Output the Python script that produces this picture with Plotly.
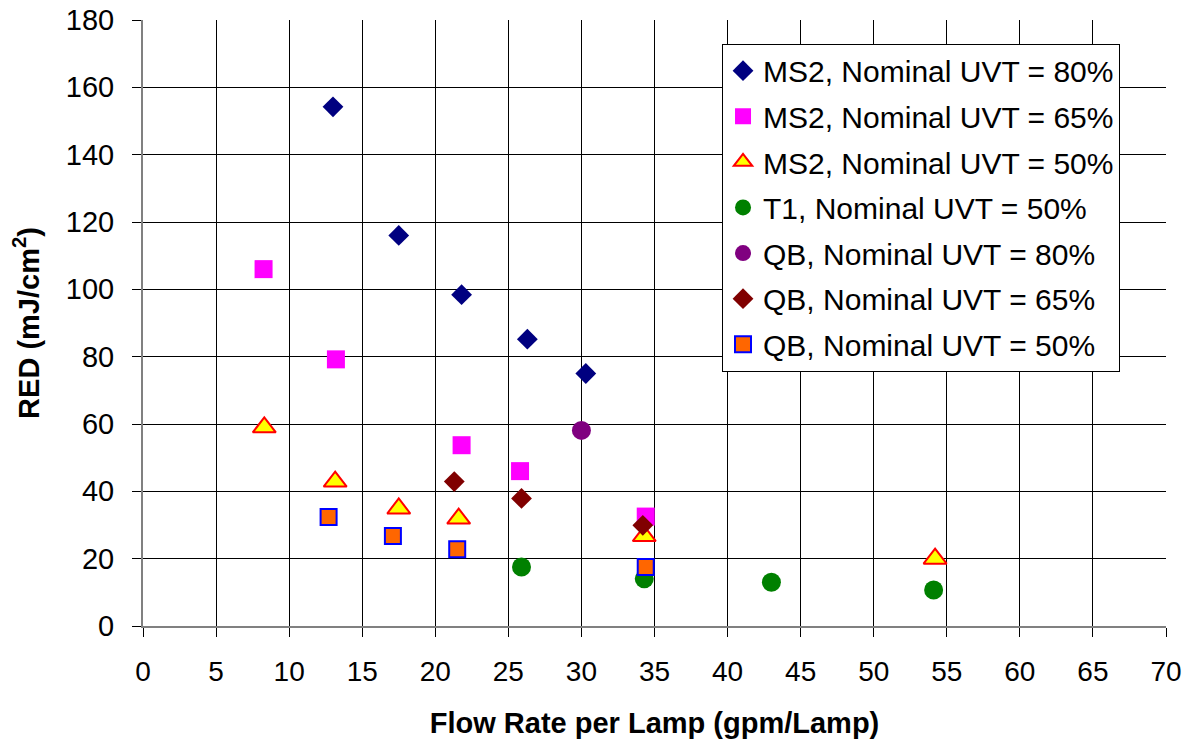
import plotly.graph_objects as go

# ---- data ----
ms2_80_x = [13.0, 17.5, 21.8, 26.3, 30.3]
ms2_80_y = [154.2, 116.0, 98.4, 85.2, 75.0]

ms2_65_x = [8.25, 13.2, 21.8, 25.8, 34.4]
ms2_65_y = [106.0, 79.2, 53.7, 46.0, 32.5]

ms2_50_x = [8.3, 13.15, 17.5, 21.6, 34.3, 54.2]
ms2_50_y = [59.0, 42.9, 34.9, 31.9, 26.7, 20.0]

t1_50_x = [25.9, 34.3, 43.0, 54.1]
t1_50_y = [17.5, 14.0, 13.0, 10.7]

qb_80_x = [30.0]
qb_80_y = [58.1]

qb_65_x = [21.3, 25.9, 34.2]
qb_65_y = [42.9, 37.9, 29.9]

qb_50_x = [12.7, 17.1, 21.5, 34.4]
qb_50_y = [32.4, 26.7, 22.8, 17.5]

names = [
    "MS2, Nominal UVT = 80%",
    "MS2, Nominal UVT = 65%",
    "MS2, Nominal UVT = 50%",
    "T1, Nominal UVT = 50%",
    "QB, Nominal UVT = 80%",
    "QB, Nominal UVT = 65%",
    "QB, Nominal UVT = 50%",
]

x_ticks = list(range(0, 71, 5))
y_ticks = list(range(0, 181, 20))

series = [
    (ms2_80_x, ms2_80_y, dict(symbol="diamond", size=16, color="#000080", line=dict(width=0))),
    (ms2_65_x, ms2_65_y, dict(symbol="square", size=18, color="#FF00FF", line=dict(width=0))),
    (ms2_50_x, ms2_50_y, dict(symbol="triangle-up", size=20, color="#FFFF00", line=dict(width=2, color="#FF0000"))),
    (t1_50_x, t1_50_y, dict(symbol="circle", size=19, color="#008000", line=dict(width=0))),
    (qb_80_x, qb_80_y, dict(symbol="circle", size=19, color="#800080", line=dict(width=0))),
    (qb_65_x, qb_65_y, dict(symbol="diamond", size=16, color="#800000", line=dict(width=0))),
    (qb_50_x, qb_50_y, dict(symbol="square", size=16, color="#FF6600", line=dict(width=2, color="#0000FF"))),
]

FONT = "Liberation Sans, Arial, sans-serif"

fig = go.Figure()
for i, ((xs, ys, mk), nm) in enumerate(zip(series, names)):
    fig.add_trace(go.Scatter(x=xs, y=ys, mode="markers", name=nm, marker=mk,
                             legendgroup="g%d" % i))

fig.update_layout(
    width=1191, height=740,
    margin=dict(l=143, r=25, t=20, b=114),
    paper_bgcolor="white", plot_bgcolor="white",
    font=dict(family=FONT, color="black"),
    showlegend=True,
    legend=dict(
        x=0.566, y=0.961, xanchor="left", yanchor="top",
        bgcolor="white", bordercolor="black", borderwidth=1,
        font=dict(family=FONT, size=30, color="black"),
        tracegroupgap=3.6,
    ),
)

fig.update_xaxes(
    range=[0, 70], tickvals=x_ticks, ticktext=[str(v) for v in x_ticks],
    automargin=False, ticklabeloverflow="allow",
    showgrid=True, gridcolor="black", gridwidth=1,
    showline=True, linecolor="#808080", linewidth=2,
    ticks="outside", ticklen=9, tickcolor="black",
    tickfont=dict(family=FONT, size=28, color="black"),
    ticklabelstandoff=10,
    zeroline=False,
    title=dict(text="<b>Flow Rate per Lamp (gpm/Lamp)</b>",
               font=dict(family=FONT, size=29, color="black"), standoff=27),
)
fig.update_yaxes(
    range=[0, 180], tickvals=y_ticks, ticktext=[str(v) for v in y_ticks],
    automargin=False, ticklabeloverflow="allow",
    showgrid=True, gridcolor="black", gridwidth=1,
    showline=True, linecolor="#808080", linewidth=2,
    ticks="outside", ticklen=9, tickcolor="black",
    tickfont=dict(family=FONT, size=29, color="black"),
    ticklabelstandoff=12,
    zeroline=False,
    title=dict(text="<b>RED (mJ/cm<sup>2</sup>)</b>",
               font=dict(family=FONT, size=29, color="black"), standoff=18),
)

# remove the default 8px page margin so the figure fills the window exactly
fig.write_html("out.html", config={"displayModeBar": False},
               post_script="document.body.style.margin='0';")
